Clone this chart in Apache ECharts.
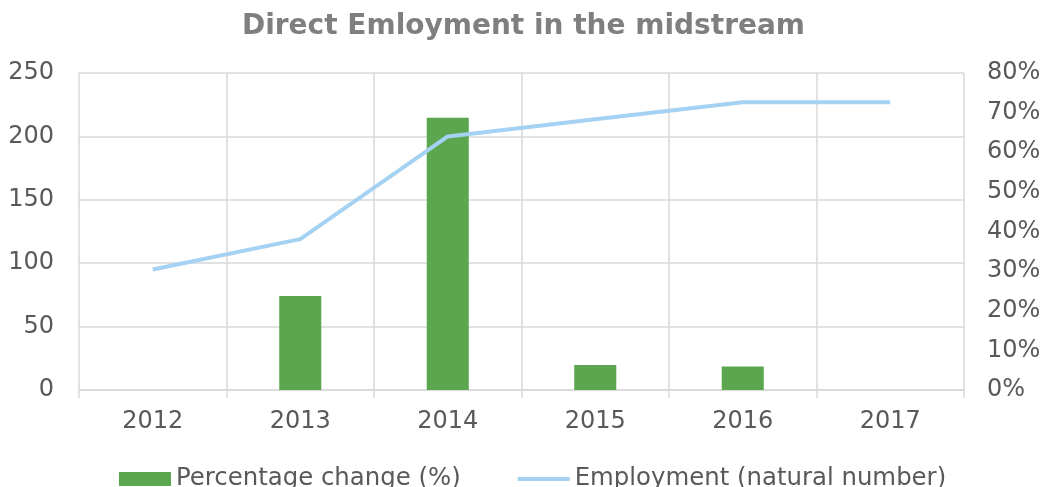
<!DOCTYPE html>
<html>
<head>
<meta charset="utf-8">
<script src="https://cdn.jsdelivr.net/npm/echarts@6/dist/echarts.min.js"></script>
<style>
html,body{margin:0;padding:0;background:#fff;}
#chart{width:1047px;height:487px;}
</style>
</head>
<body>
<div id="chart"></div>
<script>
var titleText = "Direct Emloyment in the midstream";
var categories = ["2012", "2013", "2014", "2015", "2016", "2017"];
var percentageChange = [null, 23.7, 68.7, 6.3, 5.9, null];
var employment = [95, 119, 200, 213.5, 227, 227];
var barName = "Percentage change (%)";
var lineName = "Employment (natural number)";

var FONT = "DejaVu Sans";
var chart = echarts.init(document.getElementById('chart'), null, {renderer: 'canvas'});
chart.setOption({
  animation: false,
  backgroundColor: '#ffffff',
  title: {
    text: titleText,
    left: 'center',
    top: 8,
    textStyle: {fontFamily: FONT, fontSize: 28, fontWeight: 'bold', color: '#7f7f7f'}
  },
  legend: {
    top: 462,
    left: 114,
    itemWidth: 52,
    itemHeight: 14,
    itemGap: 57,
    textStyle: {fontFamily: FONT, fontSize: 24.4, color: '#595959'},
    data: [
      {name: barName, icon: 'rect'},
      {name: lineName, icon: 'path://M0,5 L52,5 L52,9 L0,9 Z'}
    ]
  },
  grid: {left: 79, right: 83, top: 73, bottom: 97, containLabel: false},
  xAxis: {
    type: 'category',
    data: categories,
    boundaryGap: true,
    axisLine: {show: true, lineStyle: {color: '#d9d9d9', width: 1.5}},
    axisTick: {show: true, length: 8, lineStyle: {color: '#d9d9d9', width: 1.5}},
    splitLine: {show: true, lineStyle: {color: '#d9d9d9', width: 1.5}},
    axisLabel: {fontFamily: FONT, fontSize: 24, color: '#595959', margin: 20}
  },
  yAxis: [
    {
      type: 'value', min: 0, max: 250, interval: 50,
      axisLine: {show: false}, axisTick: {show: false},
      splitLine: {show: true, lineStyle: {color: '#d9d9d9', width: 1.5}},
      axisLabel: {fontFamily: FONT, fontSize: 24, color: '#595959', margin: 25}
    },
    {
      type: 'value', min: 0, max: 80, interval: 10,
      axisLine: {show: false}, axisTick: {show: false},
      splitLine: {show: false},
      axisLabel: {fontFamily: FONT, fontSize: 24, color: '#595959', margin: 23, formatter: '{value}%'}
    }
  ],
  series: [
    {
      name: barName, type: 'bar', yAxisIndex: 1,
      data: percentageChange, barWidth: '28.5%',
      itemStyle: {color: '#5ba64f'}
    },
    {
      name: lineName, type: 'line', yAxisIndex: 0,
      data: employment, symbol: 'none',
      lineStyle: {color: '#a5d1f3', width: 4},
      itemStyle: {color: '#a5d1f3'}
    }
  ]
});
</script>
</body>
</html>
